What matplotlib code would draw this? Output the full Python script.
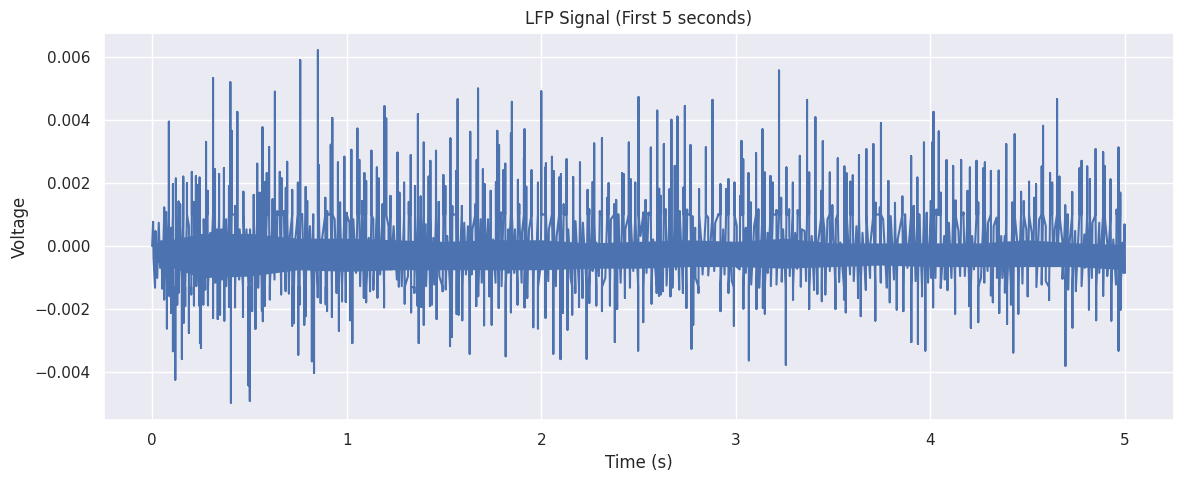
import numpy as np
import matplotlib
matplotlib.use("Agg")
import matplotlib.pyplot as plt
import seaborn as sns

start_t = [0.0]
start_mv = [0.0]
shoulder_hi_mv = 1.0
shoulder_lo_mv = -1.3

core_t = [0.02, 0.25, 0.5, 0.75, 1.0, 1.25, 1.5, 1.75, 2.0, 2.25, 2.5, 2.75, 3.0, 3.25, 3.5, 3.75, 4.0, 4.25, 4.5, 4.75, 5.0]
core_up_mv = [.10, .40, .40, .25, .25, .20, .15, .20, .20, .10, .15, .20, .15, .25, .10, .10, .10, .10, .20, .10, .05]
core_lo_mv = [-.50, -1.00, -.95, -.75, -.80, -.75, -.75, -.75, -.75, -.70, -.70, -.65, -.65, -.70, -.65, -.60, -.65, -.65, -.65, -.65, -.75]

peak_t = [
 .005,.017,.034,.048,.062,.072,.086,.096,.107,.122,.136,.144,.160,.179,.189,.204,.215,.225,.235,.244,.254,.265,.277,.285,.299,.313,.323,.333,.344,.357,.369,.380,.395,.402,.409,.426,.438,.450,.469,.485,.503,.522,.540,.553,.567,.577,.589,.601,.619,.631,.643,.656,.665,.677,.687,.694,.708,.720,.734,.749,.761,.771,.789,.797,.811,.828,.838,.852,.857,.871,.890,.900,.918,.926,.938,.955,.966,.988,
 1.000,1.014,1.024,1.034,1.055,1.065,1.079,1.091,1.100,1.113,1.127,1.137,1.155,1.165,1.184,1.194,1.203,1.215,1.225,1.241,1.261,1.271,
 1.295,1.319,1.329,1.351,1.366,1.380,1.396,1.406,1.421,1.430,1.445,1.459,1.473,1.497,1.507,1.517,1.533,1.543,1.562,1.570,1.592,1.604,1.623,1.635,1.646,1.661,1.668,1.675,1.688,1.700,1.709,1.726,1.740,1.753,1.767,1.774,1.783,1.793,1.805,1.815,1.831,1.844,1.849,1.865,1.880,1.887,1.901,1.911,1.914,1.923,1.937,1.950,1.967,1.983,
 2.000,2.021,2.024,2.039,2.055,2.063,2.079,2.092,2.101,2.115,2.130,2.139,2.164,2.176,2.199,2.214,2.238,2.247,2.264,2.272,2.284,2.301,2.312,2.339,2.346,2.358,2.375,2.385,2.396,2.416,2.423,2.432,2.450,2.459,2.483,2.500,2.510,2.524,2.536,2.551,2.563,2.575,2.596,2.606,
 2.615,2.630,2.640,2.659,2.669,2.686,2.700,2.712,2.731,2.738,2.750,2.767,2.777,2.791,2.811,2.823,2.846,2.858,2.880,2.894,2.911,2.921,2.935,2.950,2.962,2.976,2.993,
 3.005,3.022,3.029,3.038,3.051,3.065,3.077,3.094,3.104,3.116,3.137,3.149,3.163,3.178,3.190,3.209,3.222,3.233,3.243,3.260,3.274,3.293,3.305,3.318,3.329,3.339,3.353,3.366,3.377,3.390,3.409,3.423,3.440,3.447,3.455,3.471,3.483,3.496,3.514,3.524,3.538,3.558,3.570,3.589,3.601,3.620,3.633,3.651,3.671,3.692,3.707,3.719,3.740,3.746,3.757,3.784,3.796,3.818,3.832,3.856,3.870,3.890,3.901,3.914,3.933,
 3.943,3.967,3.981,4.002,4.009,4.016,4.031,4.043,4.053,4.071,4.083,4.095,4.117,4.129,4.144,4.158,4.170,4.191,4.203,4.215,4.237,4.246,4.273,4.280,4.296,4.311,4.325,4.340,4.351,4.364,4.382,4.390,4.404,4.421,4.433,4.447,4.466,4.480,4.493,4.507,4.521,4.533,4.543,4.559,4.572,4.579,4.593,4.615,4.626,4.639,4.651,4.663,4.679,4.693,4.705,4.715,4.729,4.744,4.766,4.777,4.791,4.806,4.820,4.833,4.849,4.868,4.888,4.895,4.909,4.926,4.940,4.957,4.967,4.976,4.988,4.998]

peak_mv = [
 .77,.48,.74,.16,1.22,1.08,3.94,.58,1.96,2.14,1.41,1.32,2.20,1.99,.63,2.35,1.40,2.22,1.93,2.17,.32,.85,3.30,1.75,.42,5.32,2.43,.53,2.28,.53,2.47,.85,1.90,5.19,3.65,1.27,4.25,.53,1.72,.53,.53,1.62,2.61,1.69,3.76,2.03,2.31,3.14,1.48,4.89,1.11,2.35,2.15,1.11,1.85,2.67,.32,1.78,.11,2.01,5.89,1.01,1.87,1.43,.63,1.01,.11,6.20,2.56,.11,1.53,1.11,3.21,4.06,.85,2.65,1.38,2.83,
 1.06,.74,3.05,.85,3.72,2.73,1.43,2.31,2.06,.26,3.02,.85,2.49,2.14,1.32,4.43,4.04,.63,1.59,.63,2.96,1.69,
 2.01,1.40,2.88,1.90,4.18,1.57,3.28,.69,2.20,2.70,.26,3.02,1.40,2.25,1.90,.32,3.41,1.27,2.38,4.65,1.27,.74,.63,3.62,.53,1.32,2.73,4.99,.85,2.43,1.96,.85,1.75,.21,2.03,3.65,3.20,1.06,2.40,2.61,.53,3.57,4.57,.53,2.10,1.32,.42,2.80,3.70,1.88,.53,2.40,.11,2.01,
 4.90,2.49,2.62,.53,2.83,2.38,.32,2.17,2.28,1.32,2.75,.53,2.19,.79,2.65,.74,1.78,1.16,2.03,3.25,.11,1.11,3.42,1.53,1.99,.85,1.32,1.46,1.01,2.31,2.28,.53,3.28,2.12,2.01,4.72,.32,1.06,1.46,1.06,3.12,.21,4.29,1.82,
 1.59,3.23,1.16,1.80,4.00,2.54,4.10,1.11,1.85,4.44,1.16,3.20,.95,.58,1.80,.11,3.13,.90,4.63,.74,1.01,1.96,.53,1.80,2.12,.11,2.01,
 .63,1.59,3.33,2.75,.58,2.31,1.38,.63,2.94,1.16,3.70,2.33,.42,2.22,2.01,1.14,5.56,1.53,.53,2.49,1.16,2.01,.42,1.14,2.86,.53,.48,4.63,2.33,.32,4.08,.11,1.75,3.32,.53,.85,2.33,1.29,.85,2.78,.11,2.52,2.30,2.04,2.24,.63,2.88,.42,3.07,.10,3.23,1.38,1.22,3.89,.85,2.06,.95,1.37,.21,1.57,1.01,.10,2.85,1.27,2.17,
 1.01,3.28,1.06,1.43,3.28,4.25,1.16,3.63,1.69,.32,2.72,.74,2.54,1.45,.48,2.73,1.06,1.75,2.49,.32,2.70,1.38,2.47,2.65,.74,2.38,.63,.90,2.39,.32,.32,3.23,.11,1.38,3.54,.10,1.72,1.42,.53,2.04,.42,1.53,1.96,.85,2.52,3.81,.63,2.31,2.01,.53,4.65,2.20,.11,1.29,1.01,.10,1.71,.48,2.46,2.70,.37,2.52,2.12,.74,3.07,.74,2.98,2.54,.10,2.11,.21,1.16,3.12,1.69,.11,.69]

trough_t = [
 .007,.015,.026,.041,.052,.062,.076,.089,.098,.107,.119,.129,.137,.153,.162,.170,.189,.201,.215,.227,.241,.246,.251,.263,.273,.287,.301,.313,.325,.337,.349,.359,.371,.381,.395,.405,.426,.447,.467,.481,.495,.502,.514,.531,.545,.564,.569,.579,.605,.629,.641,.663,.686,.703,.720,.729,.751,.758,.782,.790,.802,.821,.832,.851,.866,.892,.899,.924,.948,.960,.976,.995,
 1.017,1.029,1.048,1.069,1.088,1.100,1.120,1.137,1.158,1.172,1.192,1.215,1.227,1.258,1.268,
 1.283,1.298,1.315,1.331,1.348,1.363,1.370,1.384,1.396,1.408,1.428,1.438,1.450,1.462,1.476,1.493,1.509,1.531,1.541,1.565,1.575,1.594,1.613,1.632,1.642,1.666,1.676,1.694,1.706,1.716,1.733,1.745,1.765,1.781,1.796,1.817,1.831,1.844,1.861,1.878,1.899,1.914,1.928,1.959,1.973,1.983,1.997,
 2.022,2.036,2.062,2.075,2.099,2.110,2.135,2.151,2.159,2.175,2.194,2.212,2.233,2.247,2.264,2.283,2.296,2.312,2.329,2.353,2.378,2.390,2.408,2.430,2.456,2.473,2.498,2.524,2.541,2.567,2.593,2.605,
 2.615,2.625,2.644,2.664,2.674,2.692,2.709,2.728,2.746,2.772,2.781,2.793,2.808,2.829,2.858,2.889,2.921,2.942,2.962,2.979,2.990,
 3.005,3.020,3.039,3.051,3.067,3.079,3.106,3.120,3.139,3.149,3.164,3.180,3.209,3.236,3.257,3.277,3.294,3.315,3.334,3.361,3.377,3.402,3.419,3.442,3.460,3.483,3.512,3.531,3.556,3.565,3.587,3.606,3.628,3.642,3.668,3.690,3.717,3.745,3.776,3.791,3.813,3.827,3.861,3.882,3.902,3.924,3.936,
 3.957,3.974,3.988,4.004,4.014,4.026,4.053,4.074,4.088,4.108,4.127,4.153,4.177,4.199,4.208,4.224,4.246,4.260,4.277,4.294,4.311,4.321,4.342,4.354,4.370,4.383,4.394,4.414,4.426,4.452,4.473,4.500,4.528,4.545,4.572,4.593,4.610,4.632,4.651,4.679,4.694,4.708,4.730,4.748,4.777,4.794,4.815,4.830,4.852,4.868,4.888,4.909,4.930,4.954,4.967,4.978,4.992,5.000]

trough_mv = [
 -.37,-1.32,-1.01,-.69,-1.35,-1.69,-2.61,-1.59,-2.12,-3.33,-4.23,-1.85,-1.48,-3.57,-2.43,-1.90,-2.75,-1.53,-1.88,-1.27,-1.88,-3.07,-3.23,-1.85,-1.38,-1.88,-.90,-2.28,-1.16,-2.31,-2.17,-1.06,-2.36,-1.27,-1.93,-4.96,-1.94,-1.06,-2.24,-.74,-4.41,-4.90,-2.06,-2.62,-1.32,-2.04,-2.38,-1.90,-1.69,-1.06,-.74,-1.53,-1.43,-1.50,-2.52,-2.43,-3.44,-1.85,-2.49,-2.22,-.69,-3.65,-4.02,-1.62,-1.80,-1.85,-2.06,-2.24,-1.48,-2.68,-1.75,-1.77,
 -2.35,-3.07,-.85,-1.27,-1.64,-1.78,-1.43,-1.38,-1.64,-.90,-1.94,-.63,-.74,-1.06,-1.29,
 -1.27,-1.82,-.95,-2.10,-1.48,-1.88,-3.07,-1.93,-2.49,-1.27,-1.90,-1.85,-1.22,-2.31,-.95,-1.43,-1.38,-3.17,-2.88,-2.15,-2.17,-2.35,-.90,-3.41,-.90,-1.90,-1.59,-1.16,-2.51,-.58,-1.59,-2.49,-1.16,-1.96,-1.27,-3.49,-.85,-2.10,-.85,-1.85,-1.16,-1.94,-1.64,-2.57,-.53,-2.61,-.63,
 -2.28,-1.11,-3.41,-1.27,-3.58,-2.12,-2.65,-1.01,-2.17,-1.48,-1.93,-1.64,-3.57,-1.80,-.79,-1.88,-.95,-2.06,-1.01,-1.88,-3.04,-1.99,-1.16,-1.64,-1.32,-.79,-3.31,-2.41,-.85,-1.82,-1.48,-1.57,
 -1.53,-1.43,-1.25,-1.59,-1.32,-.74,-1.38,-1.48,-1.96,-3.25,-2.49,-1.01,-1.48,-.90,-.93,-.79,-2.06,-.90,-1.48,-1.11,-2.52,
 -.66,-.74,-1.99,-.85,-3.62,-1.22,-1.99,-1.32,-1.96,-2.14,-.85,-1.27,-1.22,-1.13,-3.76,-.95,-1.71,-.72,-1.29,-1.11,-1.99,-1.38,-1.51,-1.75,-1.53,-.79,-1.99,-1.14,-1.69,-2.10,-.90,-1.11,-1.64,-2.22,-1.38,-1.01,-2.36,-1.16,-1.32,-1.78,-1.06,-2.01,-2.06,-.69,-3.04,-1.11,-3.10,
 -1.59,-3.31,-1.16,-1.01,-1.94,-1.01,-1.32,-1.06,-1.40,-1.01,-2.14,-.95,-.95,-1.90,-2.59,-.74,-2.41,-1.01,-1.16,-.79,-1.56,-1.78,-1.01,-2.12,-1.01,-1.48,-2.46,-1.85,-3.37,-2.14,-1.19,-1.59,-.63,-1.30,-1.22,-1.11,-1.71,-.63,-.63,-1.04,-3.79,-1.38,-2.59,-1.43,-1.27,-.69,-2.01,-1.01,-2.35,-.85,-1.57,-.95,-2.36,-1.22,-3.31,-2.01,-.85,-.85]

n_p, n_t = min(len(peak_t), len(peak_mv)), min(len(trough_t), len(trough_mv))
print(len(peak_t), len(peak_mv), len(trough_t), len(trough_mv))
t_all = np.concatenate([start_t, peak_t[:n_p], trough_t[:n_t]])
v_all = np.concatenate([start_mv, peak_mv[:n_p], trough_mv[:n_t]])
order = np.argsort(t_all, kind="stable")
t_sorted, v_sorted = t_all[order], v_all[order]

# the read extremes stay as vertical spikes; between them the line zigzags at shoulder height
shoulder = np.clip(v_sorted, shoulder_lo_mv, shoulder_hi_mv)
path_t = np.repeat(t_sorted, 3)
path_v = np.empty(path_t.size)
path_v[0::3] = shoulder
path_v[1::3] = v_sorted
path_v[2::3] = shoulder

sns.set_theme()
fig, ax = plt.subplots(figsize=(11.84, 4.84), dpi=100)
ax.plot(path_t, path_v * 1e-3, color="#4c72b0", lw=1.5)
ax.fill_between(core_t, np.array(core_lo_mv) * 1e-3, np.array(core_up_mv) * 1e-3,
                color="#4c72b0", lw=0)
ax.set_title("LFP Signal (First 5 seconds)")
ax.set_xlabel("Time (s)")
ax.set_ylabel("Voltage")
fig.subplots_adjust(left=103.5/1184, right=1173.6/1184, top=1-32.7/484, bottom=1-420.3/484)
fig.savefig("out.png", dpi=100)
